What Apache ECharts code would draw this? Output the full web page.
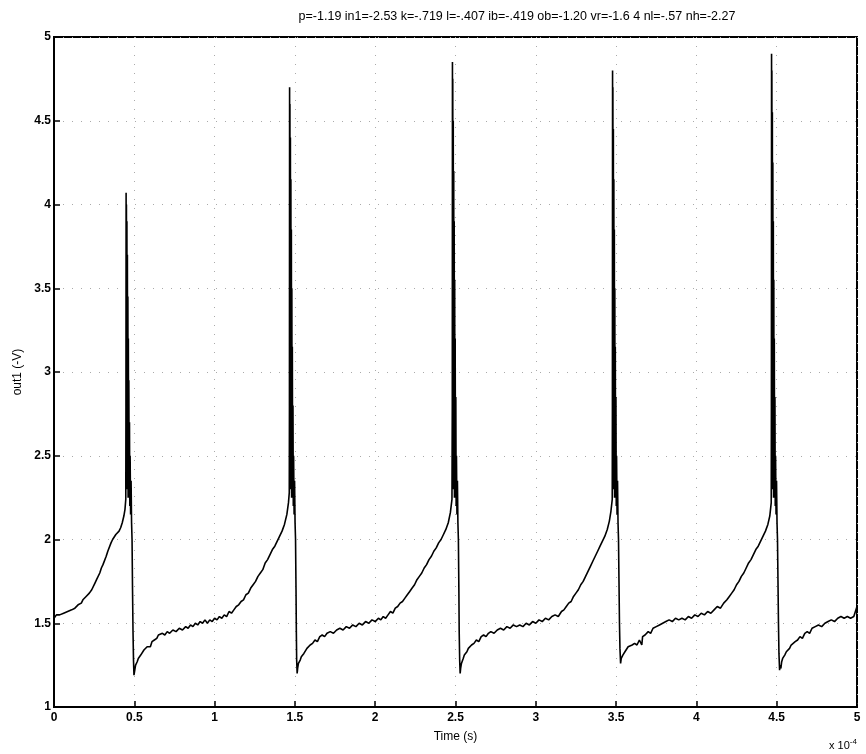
<!DOCTYPE html>
<html><head><meta charset="utf-8">
<script src="https://cdn.jsdelivr.net/npm/echarts@6/dist/echarts.min.js"></script>
<style>html,body{margin:0;padding:0;background:#fff}#c{width:866px;height:754px}</style>
</head><body><div id="c"></div>
<script>
const titleText = 'p=-1.19 in1=-2.53 k=-.719 l=-.407 ib=-.419 ob=-1.20 vr=-1.6 4 nl=-.57 nh=-2.27';
const xLabel = 'Time (s)';
const yLabel = 'out1 (-V)';
const xTicks = [0, 0.5, 1, 1.5, 2, 2.5, 3, 3.5, 4, 4.5, 5];
const yTicks = [1, 1.5, 2, 2.5, 3, 3.5, 4, 4.5, 5];
// time in units of 1e-4 s, voltage values
const seg1 = [[0,1.53],[0.015,1.55],[0.025,1.54],[0.035,1.55],[0.045,1.54],[0.06,1.56],[0.07,1.55],[0.085,1.57],[0.095,1.56],[0.11,1.58],[0.12,1.57],[0.13,1.59],[0.14,1.58],[0.15,1.61],[0.16,1.60],[0.17,1.62],[0.18,1.64],[0.19,1.63],[0.20,1.66],[0.21,1.67],[0.22,1.68],[0.235,1.70],[0.245,1.71],[0.255,1.74],[0.265,1.76],[0.275,1.77],[0.285,1.80],[0.295,1.83],[0.305,1.85],[0.315,1.86],[0.325,1.90],[0.335,1.93],[0.345,1.94],[0.355,1.98],[0.365,2.00],[0.375,2.01],[0.385,2.03],[0.395,2.02],[0.405,2.05],[0.415,2.07],[0.425,2.10],[0.435,2.14],[0.442,2.18],[0.447,2.24]];
const spike1 = [[0.448,2.8],[0.449,4.07],[0.450,2.3],[0.451,4.0],[0.4525,2.35],[0.454,3.9],[0.4555,2.3],[0.457,3.7],[0.4585,2.3],[0.460,3.45],[0.4615,2.25],[0.463,3.2],[0.4645,2.25],[0.466,2.95],[0.468,2.25],[0.470,2.7],[0.472,2.2],[0.474,2.5],[0.477,2.15],[0.480,2.35],[0.483,2.1],[0.486,2.0],[0.489,1.7],[0.492,1.45],[0.495,1.28],[0.498,1.19]];
const seg2 = [[0.503,1.22],[0.508,1.25],[0.512,1.24],[0.518,1.27],[0.525,1.29],[0.53,1.28],[0.54,1.31],[0.55,1.32],[0.56,1.34],[0.57,1.33],[0.58,1.36],[0.59,1.37],[0.60,1.36],[0.61,1.39],[0.625,1.40],[0.64,1.41],[0.65,1.43],[0.66,1.42],[0.675,1.44],[0.69,1.43],[0.705,1.45],[0.72,1.44],[0.74,1.46],[0.76,1.45],[0.78,1.47],[0.80,1.46],[0.82,1.48],[0.835,1.47],[0.85,1.49],[0.865,1.48],[0.88,1.50],[0.895,1.49],[0.91,1.51],[0.925,1.50],[0.94,1.52],[0.955,1.50],[0.97,1.52],[0.985,1.51],[1.0,1.53],[1.015,1.52],[1.03,1.54],[1.045,1.53],[1.06,1.55],[1.075,1.54],[1.09,1.57],[1.105,1.56],[1.12,1.58],[1.135,1.60],[1.15,1.61],[1.165,1.63],[1.18,1.64],[1.195,1.67],[1.21,1.68],[1.225,1.71],[1.24,1.73],[1.255,1.75],[1.27,1.78],[1.285,1.80],[1.30,1.82],[1.315,1.86],[1.33,1.88],[1.345,1.91],[1.36,1.94],[1.375,1.96],[1.39,1.99],[1.405,2.02],[1.42,2.05],[1.435,2.09],[1.45,2.15],[1.46,2.22],[1.465,2.28]];
const spike2 = [[1.466,2.8],[1.467,4.70],[1.468,2.3],[1.469,4.6],[1.4705,2.35],[1.472,4.4],[1.4735,2.3],[1.475,4.15],[1.4765,2.3],[1.478,3.85],[1.4795,2.25],[1.481,3.5],[1.4825,2.25],[1.484,3.15],[1.486,2.25],[1.488,2.8],[1.490,2.2],[1.492,2.5],[1.495,2.15],[1.498,2.35],[1.501,2.1],[1.504,2.0],[1.507,1.7],[1.509,1.45],[1.511,1.28],[1.514,1.20]];
const seg3 = [[1.517,1.23],[1.522,1.26],[1.527,1.25],[1.533,1.28],[1.54,1.30],[1.548,1.29],[1.556,1.32],[1.565,1.33],[1.575,1.35],[1.585,1.34],[1.595,1.37],[1.61,1.38],[1.625,1.40],[1.64,1.39],[1.655,1.42],[1.67,1.43],[1.685,1.42],[1.70,1.44],[1.72,1.45],[1.74,1.44],[1.76,1.46],[1.78,1.47],[1.80,1.46],[1.82,1.48],[1.84,1.47],[1.86,1.49],[1.88,1.48],[1.90,1.50],[1.92,1.49],[1.94,1.51],[1.96,1.50],[1.98,1.52],[2.0,1.51],[2.02,1.53],[2.035,1.52],[2.05,1.54],[2.065,1.53],[2.08,1.55],[2.095,1.57],[2.11,1.56],[2.125,1.59],[2.14,1.60],[2.155,1.62],[2.17,1.63],[2.185,1.65],[2.20,1.67],[2.215,1.69],[2.23,1.71],[2.245,1.73],[2.26,1.76],[2.275,1.78],[2.29,1.80],[2.305,1.83],[2.32,1.85],[2.335,1.88],[2.35,1.90],[2.365,1.93],[2.38,1.95],[2.395,1.98],[2.41,2.00],[2.425,2.03],[2.44,2.06],[2.455,2.10],[2.468,2.16],[2.478,2.24]];
const spike3 = [[2.480,2.8],[2.481,4.85],[2.482,2.3],[2.483,4.75],[2.4845,2.35],[2.486,4.5],[2.4875,2.3],[2.489,4.2],[2.4905,2.3],[2.492,3.9],[2.4935,2.25],[2.495,3.55],[2.4965,2.25],[2.498,3.2],[2.500,2.25],[2.502,2.85],[2.504,2.2],[2.506,2.5],[2.509,2.15],[2.512,2.35],[2.515,2.1],[2.518,2.0],[2.521,1.7],[2.523,1.45],[2.526,1.28],[2.529,1.20]];
const seg4 = [[2.532,1.23],[2.537,1.26],[2.542,1.25],[2.548,1.29],[2.555,1.31],[2.563,1.30],[2.571,1.33],[2.58,1.35],[2.59,1.34],[2.60,1.37],[2.615,1.38],[2.63,1.40],[2.645,1.39],[2.66,1.42],[2.675,1.43],[2.69,1.42],[2.705,1.44],[2.72,1.45],[2.74,1.44],[2.76,1.46],[2.78,1.47],[2.80,1.46],[2.82,1.48],[2.84,1.47],[2.86,1.49],[2.88,1.48],[2.90,1.49],[2.92,1.48],[2.94,1.50],[2.96,1.49],[2.98,1.51],[3.0,1.50],[3.02,1.52],[3.04,1.51],[3.06,1.53],[3.08,1.52],[3.10,1.54],[3.12,1.55],[3.14,1.54],[3.16,1.57],[3.175,1.58],[3.19,1.60],[3.205,1.62],[3.22,1.63],[3.235,1.66],[3.25,1.68],[3.265,1.70],[3.28,1.73],[3.295,1.75],[3.31,1.78],[3.325,1.81],[3.34,1.84],[3.355,1.87],[3.37,1.90],[3.385,1.93],[3.40,1.96],[3.415,1.99],[3.43,2.02],[3.445,2.06],[3.458,2.11],[3.468,2.17],[3.476,2.24]];
const spike4 = [[3.477,2.8],[3.478,4.80],[3.479,2.3],[3.480,4.7],[3.4815,2.35],[3.483,4.45],[3.4845,2.3],[3.486,4.15],[3.4875,2.3],[3.489,3.85],[3.4905,2.25],[3.492,3.5],[3.4935,2.25],[3.495,3.15],[3.497,2.25],[3.499,2.85],[3.501,2.2],[3.503,2.5],[3.506,2.15],[3.509,2.35],[3.512,2.1],[3.515,2.0],[3.518,1.75],[3.521,1.5],[3.524,1.35],[3.528,1.26]];
const seg5 = [[3.532,1.29],[3.537,1.28],[3.542,1.31],[3.548,1.30],[3.555,1.33],[3.565,1.34],[3.575,1.36],[3.585,1.35],[3.60,1.37],[3.615,1.38],[3.63,1.37],[3.645,1.40],[3.655,1.41],[3.66,1.37],[3.665,1.42],[3.68,1.43],[3.70,1.45],[3.715,1.44],[3.73,1.47],[3.75,1.48],[3.77,1.49],[3.79,1.50],[3.81,1.51],[3.83,1.52],[3.85,1.51],[3.87,1.53],[3.89,1.52],[3.91,1.53],[3.93,1.52],[3.95,1.54],[3.97,1.53],[3.99,1.55],[4.01,1.54],[4.03,1.56],[4.05,1.55],[4.07,1.57],[4.09,1.56],[4.11,1.58],[4.13,1.60],[4.15,1.59],[4.17,1.62],[4.19,1.64],[4.205,1.66],[4.22,1.68],[4.235,1.70],[4.25,1.73],[4.265,1.75],[4.28,1.78],[4.295,1.80],[4.31,1.83],[4.325,1.86],[4.34,1.88],[4.355,1.91],[4.37,1.94],[4.385,1.96],[4.40,1.99],[4.415,2.02],[4.43,2.05],[4.445,2.09],[4.457,2.14],[4.466,2.22]];
const spike5 = [[4.467,2.8],[4.468,4.90],[4.469,2.3],[4.470,4.8],[4.4715,2.35],[4.473,4.55],[4.4745,2.3],[4.476,4.25],[4.4775,2.3],[4.479,3.9],[4.4805,2.25],[4.482,3.55],[4.4835,2.25],[4.485,3.2],[4.487,2.25],[4.489,2.85],[4.491,2.2],[4.493,2.5],[4.496,2.15],[4.499,2.35],[4.502,2.1],[4.505,2.0],[4.508,1.75],[4.511,1.5],[4.514,1.32],[4.518,1.22]];
const seg6 = [[4.521,1.25],[4.526,1.23],[4.531,1.27],[4.537,1.29],[4.543,1.28],[4.55,1.31],[4.56,1.33],[4.57,1.32],[4.58,1.35],[4.59,1.37],[4.60,1.36],[4.615,1.39],[4.63,1.40],[4.645,1.42],[4.66,1.41],[4.675,1.44],[4.69,1.45],[4.705,1.44],[4.72,1.47],[4.74,1.48],[4.76,1.49],[4.78,1.48],[4.80,1.50],[4.82,1.51],[4.84,1.52],[4.86,1.51],[4.88,1.53],[4.90,1.54],[4.92,1.53],[4.94,1.54],[4.96,1.53],[4.98,1.54],[4.99,1.57],[5.0,1.60]];

const seriesData = [].concat(seg1, spike1, seg2, spike2, seg3, spike3, seg4, spike4, seg5, spike5, seg6);

const chart = echarts.init(document.getElementById('c'), null, {renderer: 'canvas'});
const font = 'Liberation Sans, Arial, sans-serif';
chart.setOption({
  animation: false,
  backgroundColor: '#fff',
  title: {
    text: titleText, left: 512, top: 5, textAlign: 'center',
    textStyle: {fontFamily: font, fontSize: 12.5, fontWeight: 'normal', color: '#000'}
  },
  grid: {left: 54, right: 9, top: 37, bottom: 47, show: true, borderColor: '#000', borderWidth: 2, backgroundColor: 'transparent'},
  xAxis: {
    type: 'value', min: xTicks[0], max: xTicks[xTicks.length-1], interval: 0.5,
    name: xLabel, nameLocation: 'middle', nameGap: 24,
    nameTextStyle: {fontFamily: font, fontSize: 12, color: '#000'},
    axisLine: {lineStyle: {color: '#000', width: 2}},
    axisTick: {inside: true, length: 6, lineStyle: {color: '#000', width: 1.5}},
    axisLabel: {fontFamily: font, fontSize: 12, fontWeight: 'bold', color: '#000', margin: 5},
    splitLine: {show: true, lineStyle: {color: '#aaa', type: [1, 8], width: 1}}
  },
  yAxis: {
    type: 'value', min: yTicks[0], max: yTicks[yTicks.length-1], interval: 0.5,
    name: yLabel, nameLocation: 'middle', nameGap: 27,
    nameTextStyle: {fontFamily: font, fontSize: 12, color: '#000'},
    axisLine: {lineStyle: {color: '#000', width: 2}},
    axisTick: {inside: true, length: 6, lineStyle: {color: '#000', width: 1.5}},
    axisLabel: {fontFamily: font, fontSize: 12, fontWeight: 'bold', color: '#000', margin: 3},
    splitLine: {show: true, lineStyle: {color: '#aaa', type: [1, 8], width: 1}}
  },
  series: [{
    type: 'line', data: seriesData, showSymbol: false, symbol: 'none',
    lineStyle: {color: '#000', width: 1.6}, clip: true
  }],
  graphic: [{
    type: 'text', left: 829, top: 738,
    style: {
      text: '{a|x 10}{b|-4}',
      rich: {
        a: {fontFamily: font, fontSize: 11, fill: '#000'},
        b: {fontFamily: font, fontSize: 8, fill: '#000', verticalAlign: 'top', padding: [0,0,8,0]}
      }
    }
  }]
});
</script></body></html>
